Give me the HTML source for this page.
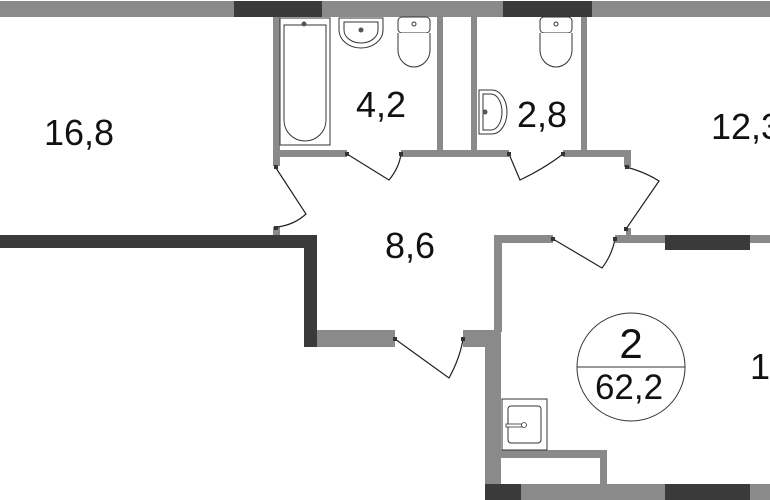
<!DOCTYPE html>
<html><head><meta charset="utf-8"><style>
html,body{margin:0;padding:0;background:#fff;width:770px;height:500px;overflow:hidden}
svg{display:block}
text{font-family:"Liberation Sans",sans-serif;fill:#111}
</style></head><body>
<svg width="770" height="500" viewBox="0 0 770 500" xmlns="http://www.w3.org/2000/svg">
<g fill="#8a8a8a">
<rect x="0" y="1" width="234" height="16"/>
<rect x="322" y="1" width="181" height="16"/>
<rect x="592" y="1" width="178" height="16"/>
<rect x="273" y="16" width="7" height="150"/>
<rect x="273" y="150" width="74" height="7"/>
<rect x="401" y="150" width="108" height="7"/>
<rect x="563" y="150" width="68" height="7"/>
<rect x="624" y="150" width="7" height="17"/>
<rect x="437" y="16" width="6" height="135"/>
<rect x="471" y="16" width="6" height="135"/>
<rect x="581" y="16" width="6" height="135"/>
<rect x="273" y="227" width="7" height="9"/>
<rect x="626" y="228" width="5" height="8"/>
<rect x="317" y="330" width="78" height="17"/>
<rect x="463" y="330" width="38" height="17"/>
<rect x="485" y="345" width="16" height="140"/>
<rect x="494" y="236" width="8" height="96"/>
<rect x="494" y="235" width="59" height="8"/>
<rect x="615" y="235" width="50" height="8"/>
<rect x="750" y="235" width="20" height="8"/>
<rect x="501" y="450" width="106" height="8"/>
<rect x="600" y="450" width="7" height="35"/>
<rect x="521" y="484" width="144" height="16"/>
<rect x="750" y="484" width="20" height="16"/>
</g>
<g fill="#3a3a3a">
<rect x="234" y="1" width="88" height="16"/>
<rect x="503" y="1" width="89" height="16"/>
<rect x="0" y="235" width="317" height="13"/>
<rect x="304" y="235" width="13" height="112"/>
<rect x="665" y="235" width="85" height="15"/>
<rect x="485" y="484" width="36" height="16"/>
<rect x="665" y="484" width="85" height="16"/>
</g>
<g fill="none" stroke="#222" stroke-width="1.2">
<path d="M347 154 L389 180 Q399 168 401 154"/>
<path d="M509 154 L520 180 Q545 168 563 154"/>
<path d="M276 168 L306 214 Q294 225 277 227"/>
<path d="M626 167 Q645 172 659 181 L626 229"/>
<path d="M553 239 L602 268 Q612 255 615 239"/>
<path d="M395 339 L449 378 Q460 358 463 339"/>
</g>
<g fill="#333">
<rect x="345" y="152" width="4" height="4"/><rect x="399" y="152" width="4" height="4"/>
<rect x="507" y="152" width="4" height="4"/><rect x="561" y="152" width="4" height="4"/>
<rect x="274" y="165" width="4" height="4"/><rect x="274" y="226" width="4" height="4"/>
<rect x="625" y="165" width="4" height="4"/><rect x="624" y="227" width="4" height="4"/>
<rect x="551" y="237" width="4" height="4"/><rect x="613" y="237" width="4" height="4"/>
<rect x="393" y="337" width="4" height="4"/><rect x="461" y="337" width="4" height="4"/>
</g>
<g fill="#fff" stroke="#333" stroke-width="1">
<rect x="280" y="18" width="50" height="127"/>
<path d="M284 25 H326 V120 A21 21 0 0 1 284 120 Z"/>
<path d="M339 18 H383 V30 A22 18 0 0 1 339 30 Z"/>
<path d="M344 22 H378 V30 A17 13 0 0 1 344 30 Z"/>
<rect x="398" y="17" width="32" height="16" rx="4"/>
<path d="M398 33 V50 A16 17 0 0 0 430 50 V33"/>
<rect x="540" y="17" width="32" height="16" rx="4"/>
<path d="M540 33 V50 A16 17 0 0 0 572 50 V33"/>
<path d="M479 90 H492 A15 22 0 0 1 492 134 H479 Z"/>
<path d="M483 94 H491 A11 18 0 0 1 491 130 H483 Z"/>
<rect x="502" y="399" width="45" height="51"/>
<rect x="508" y="406" width="33" height="37" rx="3"/>
<circle cx="631" cy="367" r="54"/>
</g>
<circle cx="304" cy="24" r="2.5" fill="#555"/><circle cx="361" cy="30" r="2.5" fill="#555"/>
<circle cx="414" cy="24" r="2" fill="none" stroke="#333"/><circle cx="556" cy="24" r="2" fill="none" stroke="#333"/>
<circle cx="485" cy="112" r="2.5" fill="#555"/>
<rect x="506" y="424" width="18" height="3" fill="#fff" stroke="#333" stroke-width="0.8"/>
<circle cx="524" cy="425" r="2.5" fill="#fff" stroke="#333" stroke-width="0.8"/>
<line x1="577" y1="367" x2="685" y2="367" stroke="#333" stroke-width="1"/>
<text x="44" y="145" font-size="36">16,8</text>
<text x="356" y="117" font-size="36">4,2</text>
<text x="517" y="127" font-size="36">2,8</text>
<text x="711" y="139" font-size="36">12,3</text>
<text x="385" y="258" font-size="36">8,6</text>
<text x="750" y="379" font-size="36">1</text>
<text x="631" y="358" font-size="42" text-anchor="middle">2</text>
<text x="629" y="399" font-size="35" text-anchor="middle">62,2</text>
</svg>
</body></html>
